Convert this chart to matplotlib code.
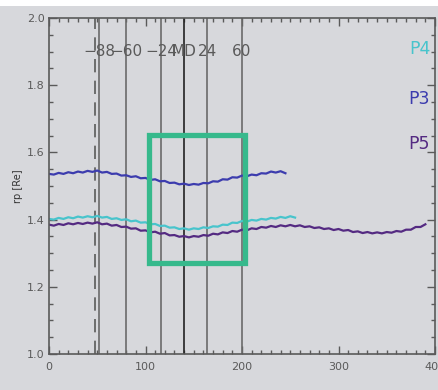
import matplotlib.pyplot as plt
import matplotlib.patches as mpatches
import numpy as np

p3_x = np.arange(0, 250, 5)
p3 = [1.536, 1.534, 1.539, 1.536, 1.541, 1.538, 1.543, 1.540, 1.545, 1.542,
      1.546, 1.540, 1.542, 1.536, 1.537, 1.531, 1.532, 1.527, 1.529, 1.523,
      1.524, 1.518, 1.520, 1.514, 1.515, 1.509, 1.510, 1.505, 1.507, 1.503,
      1.506, 1.504, 1.509, 1.508, 1.514, 1.513, 1.520, 1.519, 1.526, 1.525,
      1.531, 1.529, 1.534, 1.532, 1.538, 1.537, 1.543, 1.540, 1.544, 1.538]

p4_x = np.arange(0, 260, 5)
p4 = [1.402, 1.400, 1.405, 1.402, 1.407, 1.404, 1.409, 1.406, 1.410, 1.407,
      1.411, 1.406, 1.408, 1.402, 1.404, 1.399, 1.401, 1.395, 1.397, 1.391,
      1.392, 1.386, 1.387, 1.381, 1.382, 1.376, 1.377, 1.372, 1.374, 1.370,
      1.374, 1.372, 1.377, 1.375, 1.380, 1.379, 1.385, 1.384, 1.391, 1.390,
      1.396, 1.394, 1.399, 1.397, 1.402, 1.400, 1.405, 1.403, 1.408, 1.405,
      1.410, 1.406]

p5_x = np.arange(0, 395, 5)
p5 = [1.385, 1.382, 1.387, 1.384, 1.389, 1.386, 1.390, 1.387, 1.391, 1.388,
      1.392, 1.386, 1.388, 1.382, 1.384, 1.378, 1.379, 1.373, 1.374, 1.367,
      1.368, 1.362, 1.364, 1.358, 1.360, 1.353, 1.354, 1.349, 1.351, 1.347,
      1.351, 1.349, 1.354, 1.352, 1.358, 1.356, 1.362, 1.360, 1.366, 1.364,
      1.370, 1.368, 1.374, 1.372, 1.378, 1.376, 1.381, 1.378, 1.383, 1.380,
      1.384, 1.380, 1.383, 1.378, 1.380, 1.375, 1.377, 1.372, 1.374, 1.369,
      1.372, 1.367, 1.369, 1.363, 1.365, 1.360, 1.363, 1.359, 1.362, 1.359,
      1.363, 1.361, 1.366, 1.364, 1.370, 1.370, 1.378, 1.378, 1.386]

# vertical marker lines
marker_x = [52, 80, 116, 140, 164, 200]
marker_labels = ['\u221288', '\u221260', '\u221224', 'MD', '24', '60']
dashed_x = 48

series_names = ['P4', 'P3', 'P5']
series_label_y = [1.907, 1.758, 1.624]

box = (104, 1.27, 202.6, 1.652)  # x0, y0, x1, y1

bg = '#d7d8dc'
grey = '#5a5a5a'
c_p3 = '#3c3cae'
c_p4 = '#48c4cc'
c_p5 = '#542a82'

fig = plt.figure(figsize=(4.38, 3.90), dpi=100, facecolor=bg)
fig.patches.append(mpatches.Rectangle((0, 1 - 6 / 390), 1, 6 / 390, transform=fig.transFigure,
                                      facecolor='white', edgecolor='none', zorder=-1))
ax = fig.add_axes([49 / 438, 36 / 390, 386 / 438, 336 / 390])
ax.set_facecolor(bg)

ax.axvline(dashed_x, color=grey, lw=1.2, ls=(0, (8, 5)))
for xv, lab in zip(marker_x, marker_labels):
    ax.axvline(xv, color='#222222' if lab == 'MD' else '#6a6a6a', lw=1.2)
    ax.text(xv, 1.899, lab, ha='center', va='center', fontsize=11, color=grey)

ax.plot(p3_x, p3, color=c_p3, lw=1.6)
ax.plot(p4_x, p4, color=c_p4, lw=1.6)
ax.plot(p5_x, p5, color=c_p5, lw=1.6)

for name, yv, c in zip(series_names, series_label_y, [c_p4, c_p3, c_p5]):
    ax.text(395, yv, name, ha='right', va='center', fontsize=12.5, color=c)

x0, y0, x1, y1 = box
ax.add_patch(mpatches.Rectangle((x0, y0), x1 - x0, y1 - y0, fill=False,
                                edgecolor='#36b98c', lw=3.8, zorder=5))

ax.set_xlim(0, 400)
ax.set_ylim(1.0, 2.0)
ax.set_xticks([0, 100, 200, 300, 400])
ax.set_xticks(np.arange(0, 401, 10), minor=True)
ax.set_yticks([1.0, 1.2, 1.4, 1.6, 1.8, 2.0])
ax.set_yticks(np.arange(1.0, 2.001, 0.05), minor=True)
ax.set_yticklabels(['1.0', '1.2', '1.4', '1.6', '1.8', '2.0'])
ax.tick_params(which='both', direction='in', top=True, right=True, colors=grey,
               labelsize=8, width=1)
ax.tick_params(which='major', length=6)
ax.tick_params(which='minor', length=3)
ax.tick_params(axis='x', pad=6)
ax.tick_params(axis='y', pad=3)
for s in ax.spines.values():
    s.set_color(grey)
    s.set_linewidth(1.2)
ax.set_ylabel('rp [Re]', fontsize=7, color='#333333', labelpad=3)
for lab in ax.get_xticklabels():
    lab.set_clip_on(False)

fig.savefig('out.png', dpi=100, facecolor=bg)
